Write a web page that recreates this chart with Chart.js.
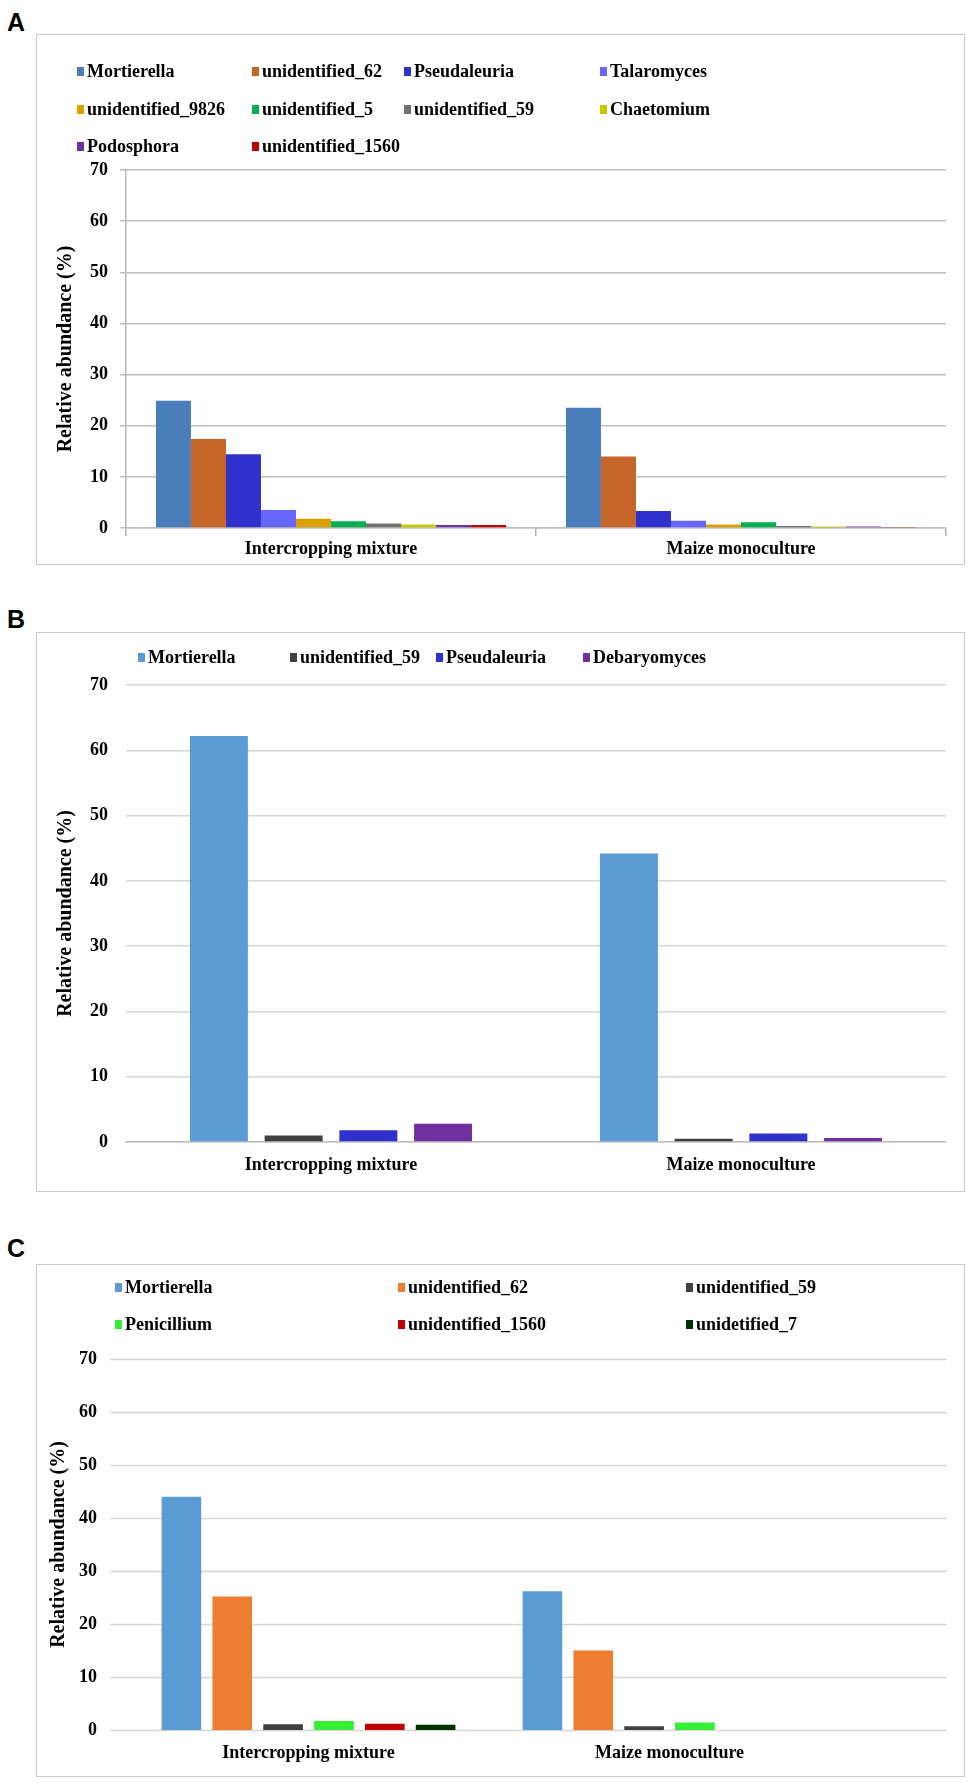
<!DOCTYPE html>
<html>
<head>
<meta charset="utf-8">
<script src="https://cdn.jsdelivr.net/npm/chart.js@4"></script>
<style>
  body { margin: 0; background: #fff; width: 975px; height: 1783px; position: relative; }
  .tag { position: absolute; left: 7px; font: bold 25px "Liberation Sans", Arial, sans-serif; color: #000; }
  .box { position: absolute; left: 36px; width: 929px; border: 1px solid #c8c8c8; box-sizing: border-box; background: #fff; }
  .box canvas { position: absolute; left: 0; top: 0; }
  .leg { position: absolute; font: bold 18px "Liberation Serif", serif; color: #000; white-space: nowrap; line-height: 22px; }
  .leg i { display: inline-block; width: 7px; height: 9px; margin-right: 3px; vertical-align: 1px; }
</style>
</head>
<body>
<div class="tag" style="top:8px">A</div>
<div class="box" id="boxA" style="top:34px;height:531px"><canvas id="chartA"></canvas></div>
<div class="tag" style="top:605px">B</div>
<div class="box" id="boxB" style="top:632px;height:560px"><canvas id="chartB"></canvas></div>
<div class="tag" style="top:1234px">C</div>
<div class="box" id="boxC" style="top:1264px;height:513px"><canvas id="chartC"></canvas></div>

<script>
// Data
const categories = ['Intercropping mixture', 'Maize monoculture'];
const yTicks = [0, 10, 20, 30, 40, 50, 60, 70];

// panel A
const speciesA = ['Mortierella', 'unidentified_62', 'Pseudaleuria', 'Talaromyces', 'unidentified_9826',
                  'unidentified_5', 'unidentified_59', 'Chaetomium', 'Podosphora', 'unidentified_1560'];
const interA = [24.9, 17.4, 14.4, 3.5, 1.8, 1.3, 0.9, 0.7, 0.6, 0.6];
const maizeA = [23.5, 14.0, 3.3, 1.4, 0.7, 1.1, 0.4, 0.3, 0.3, 0.1];
const colorsA = ['#4a7ebb', '#c5652a', '#3030cc', '#6666ff', '#d9a000',
                 '#00b050', '#707070', '#c8c800', '#7030a0', '#c00000'];

// panel B
const speciesB = ['Mortierella', 'unidentified_59', 'Pseudaleuria', 'Debaryomyces'];
const interB = [62.2, 1.0, 1.8, 2.8];
const maizeB = [44.2, 0.5, 1.3, 0.6];
const colorsB = ['#5b9bd5', '#404040', '#3030cc', '#7030a0'];

// panel C
const speciesC = ['Mortierella', 'unidentified_62', 'unidentified_59', 'Penicillium', 'unidentified_1560', 'unidetified_7'];
const interC = [44.0, 25.2, 1.1, 1.7, 1.2, 1.0];
const maizeC = [26.2, 15.0, 0.7, 1.4, 0, 0];
const colorsC = ['#5b9bd5', '#ed7d31', '#404040', '#33ee33', '#c00000', '#003300'];

const serif = '"Liberation Serif", "Times New Roman", serif';

// legend placement inside each box
const legA = { cols: [40, 215, 367, 563], rows: [25, 63, 100], perRow: 4 };
const legB = { cols: [101, 253, 399, 546], rows: [13], perRow: 4 };
const legC = { cols: [78, 361, 649], rows: [11, 48], perRow: 3 };

const build_legend = (boxId, chart, leg) => {
    const box = document.getElementById(boxId);
    chart.data.datasets.forEach((ds, i) => {
        const el = document.createElement('div');
        el.className = 'leg';
        el.style.left = leg.cols[i % leg.perRow] + 'px';
        el.style.top = leg.rows[Math.floor(i / leg.perRow)] + 'px';
        el.innerHTML = '<i style="background:' + ds.backgroundColor + '"></i>' + ds.label;
        box.appendChild(el);
    });
};

// y gridlines drawn wider than the category area (panel C)
const wideGrid = {
    id: 'wideGrid',
    beforeDatasetsDraw(chart, args, o) {
        if (!o.on) return;
        const ctx = chart.ctx, y = chart.scales.y;
        ctx.save();
        ctx.strokeStyle = o.color;
        ctx.lineWidth = 1.5;
        yTicks.forEach(v => {
            const py = Math.round(y.getPixelForValue(v)) + 0.5;
            ctx.beginPath();
            ctx.moveTo(o.x0, py);
            ctx.lineTo(o.x1, py);
            ctx.stroke();
        });
        ctx.restore();
    }
};

const make_chart = (canvasId, boxId, species, inter, maize, colors, opt) => {
    const box = document.getElementById(boxId);
    const cv = document.getElementById(canvasId);
    cv.width = box.clientWidth;
    cv.height = box.clientHeight;
    const datasets = species.map((s, i) => ({
        label: s,
        data: [inter[i], maize[i]],
        backgroundColor: colors[i],
        borderWidth: 0,
        barPercentage: opt.barPct,
        categoryPercentage: opt.catPct
    }));
    return new Chart(cv, {
        type: 'bar',
        data: { labels: categories, datasets: datasets },
        plugins: [wideGrid],
        options: {
            responsive: false,
            animation: false,
            layout: { padding: { top: opt.top, left: opt.padLeft, right: opt.right, bottom: 0 } },
            plugins: {
                legend: { display: false },
                tooltip: { enabled: false },
                wideGrid: opt.wide
            },
            scales: {
                x: {
                    grid: { display: opt.xTicks, drawOnChartArea: false, tickLength: 8, color: '#b0b0b0', lineWidth: 1.5 },
                    border: { display: opt.xLine, color: '#bdbdbd', width: 1.5 },
                    ticks: { color: '#000', font: { family: serif, weight: 'bold', size: 18 }, padding: opt.xPad },
                    afterFit: (s) => { s.height = opt.bottom; }
                },
                y: {
                    min: 0, max: 70,
                    afterBuildTicks: (s) => { s.ticks = yTicks.map(v => ({ value: v })); },
                    grid: { display: !opt.wide.on, color: opt.gridColor, lineWidth: 1.5, tickLength: opt.yTickLen, drawTicks: opt.yTickLen > 0 },
                    border: { display: opt.yAxisLine, color: '#b8b8b8', width: 1.5 },
                    ticks: { color: '#000', font: { family: serif, weight: 'bold', size: 18 }, padding: opt.yPad },
                    title: {
                        display: true, text: 'Relative abundance (%)', color: '#000',
                        font: { family: serif, weight: 'bold', size: 20 }, padding: { top: 0, bottom: 0 }
                    },
                    afterFit: (s) => { s.width = opt.yWidth; }
                }
            }
        }
    });
};

const chartA = make_chart('chartA', 'boxA', speciesA, interA, maizeA, colorsA, {
    top: 135, padLeft: 17, right: 18, bottom: 36, yWidth: 72, barPct: 1.0, catPct: 0.854,
    xTicks: true, xLine: true, xPad: 3, yTickLen: 6, yPad: 12, yAxisLine: true, gridColor: '#bdbdbd',
    wide: { on: false }
});
const chartB = make_chart('chartB', 'boxB', speciesB, interB, maizeB, colorsB, {
    top: 52, padLeft: 17, right: 18, bottom: 49, yWidth: 72, barPct: 0.776, catPct: 0.729,
    xTicks: false, xLine: true, xPad: 5, yTickLen: 0, yPad: 18, yAxisLine: false, gridColor: '#d6d6d6',
    wide: { on: false }
});
const chartC = make_chart('chartC', 'boxC', speciesC, interC, maizeC, colorsC, {
    top: 94, padLeft: 10, right: 114, bottom: 46, yWidth: 81, barPct: 0.78, catPct: 0.845,
    xTicks: false, xLine: false, xPad: 5, yTickLen: 0, yPad: 31, yAxisLine: false, gridColor: '#d6d6d6',
    wide: { on: true, x0: 73, x1: 910, color: '#d6d6d6' }
});

build_legend('boxA', chartA, legA);
build_legend('boxB', chartB, legB);
build_legend('boxC', chartC, legC);
</script>
</body>
</html>
